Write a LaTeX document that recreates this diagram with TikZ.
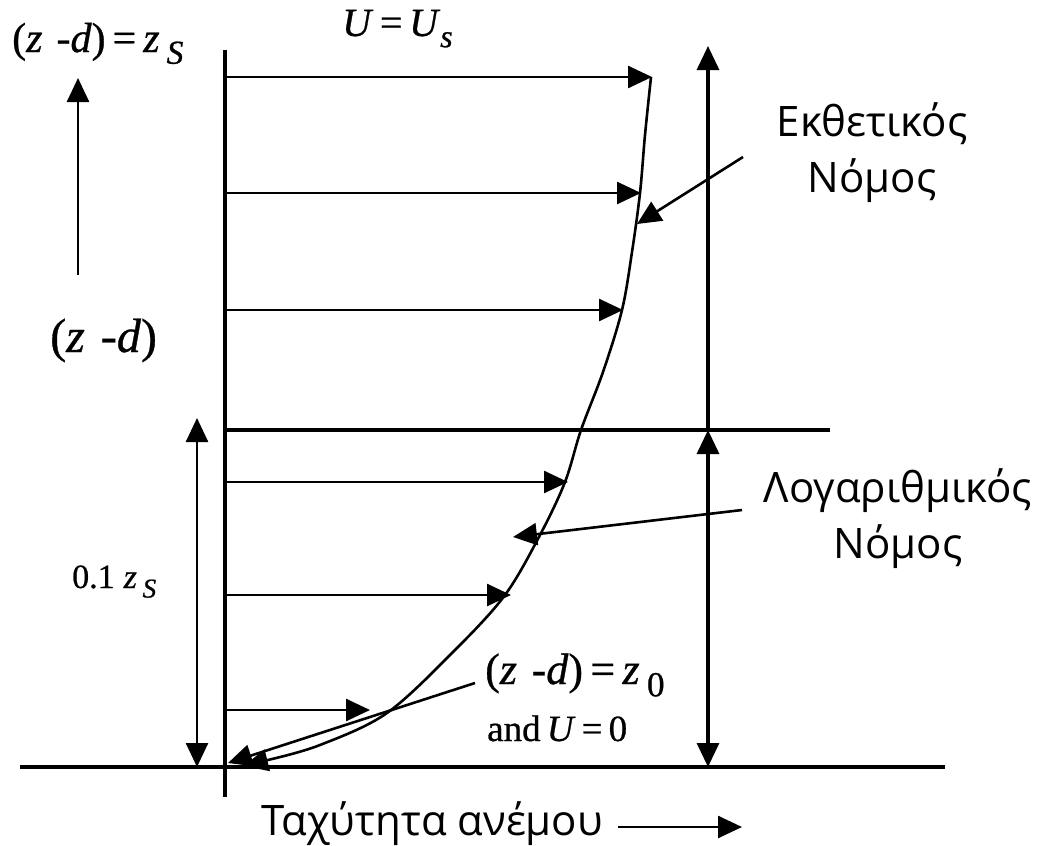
\documentclass[tikz,border=0pt]{standalone}
\usepackage{fontspec}
\usepackage{graphicx}
\setmainfont{Liberation Serif}[FakeBold=0.7, ItalicFeatures={FakeBold=0.7}]
\newfontfamily\grk{Open Sans}
\newcommand\lowsub[1]{\raisebox{-0.28em}{\scalebox{0.8}{#1}}}
\usetikzlibrary{arrows.meta}
\begin{document}
\begin{tikzpicture}[x=1pt,y=-1pt,
  ln/.style={line width=3.2pt},
  lnb/.style={line width=2.6pt},
  tri/.style={-{Triangle[length=24pt,width=22pt]}},
  tritri/.style={{Triangle[length=24pt,width=22pt]}-{Triangle[length=24pt,width=22pt]}},
  glbl/.style={font=\grk\fontsize{42}{56}\selectfont, align=center, inner sep=0pt},
  mlbl/.style={inner sep=0pt, anchor=base west}]
\useasboundingbox (0,0) rectangle (1037,846);
% axes
\coordinate (axT) at (225,50);
\coordinate (axB) at (225,797);
\coordinate (gL) at (20,767);
\coordinate (gR) at (945,767);
\coordinate (mL) at (225,430);
\coordinate (mR) at (830,430);
\draw[ln] (axT) -- (axB);
\draw[ln] (gL) -- (gR);
\draw[ln] (mL) -- (mR);
% right dimension arrows
\coordinate (rT) at (708,46);
\coordinate (rM) at (708,430);
\coordinate (rB) at (708,767);
\draw[ln,tri] (rM) -- (rT);
\draw[ln,tritri] (rB) -- (rM);
% left dimension arrows
\coordinate (lT) at (197,418);
\coordinate (lB) at (197,767);
\draw[lnb,tritri] (lB) -- (lT);
\coordinate (zaB) at (78,275);
\coordinate (zaT) at (78,78);
\draw[lnb,tri] (zaB) -- (zaT);
% velocity arrows
\foreach \n/\y/\x in {1/77/652,2/193/641,3/310/623,4/482/568,5/595/511,6/710/370}{
  \coordinate (vs\n) at (225,\y);
  \coordinate (ve\n) at (\x,\y);
  \draw[lnb,tri] (vs\n) -- (ve\n);
}
% profile curve
\coordinate (cB) at (244,766);
\draw[lnb,tri] plot[smooth,tension=0.55] coordinates {(651,77) (645,135) (640,193) (632,252) (622,310) (603,372) (581,430) (565,482) (540,535) (505,595) (455,650) (387,713) (320,745) (272,759)} -- (cB);
% pointers
\coordinate (p1s) at (743,157);
\coordinate (p1e) at (637,224);
\draw[lnb,tri] (p1s) -- (p1e);
\coordinate (p2s) at (742,510);
\coordinate (p2e) at (513,537);
\draw[lnb,tri] (p2s) -- (p2e);
\coordinate (p3s) at (475,683);
\coordinate (p3e) at (228,763);
\draw[lnb,tri] (p3s) -- (p3e);
% labels
\node[mlbl,font=\fontsize{42}{46}\selectfont] (zs) at (12,52) {(\textit{z}\,\,-\textit{d})\,=\,\textit{z}\,\lowsub{\textit{S}}};
\node[mlbl,font=\fontsize{40}{44}\selectfont] (us) at (342,36) {\textit{U}\,=\,\textit{U}\lowsub{\textit{s}}};
\node[mlbl,font=\fontsize{48}{52}\selectfont] (zd) at (50,352) {(\textit{z}\,\,-\textit{d})};
\node[mlbl,font=\fontsize{34}{40}\selectfont] (z01) at (72,588) {0.1\hspace{9pt}\textit{z}\,\lowsub{\textit{S}}};
\node[mlbl,font=\fontsize{44}{48}\selectfont] (z0) at (485,684) {(\textit{z}\,\,-\textit{d})\,=\,\textit{z}\,\lowsub{0}};
\node[mlbl,font=\fontsize{37}{42}\selectfont] (u0) at (487,741) {and\,\textit{U}\,=\,0};
\node[glbl,anchor=base] (ek) at (872,192) {Εκθετικός\\Νόμος};
\node[glbl,anchor=base] (lo) at (898,558) {Λογαριθμικός\\Νόμος};
\node[glbl,anchor=base] (ta) at (432,835) {Ταχύτητα ανέμου};
\coordinate (tas) at (618,827);
\coordinate (tae) at (742,827);
\draw[lnb,tri] (tas) -- (tae);
\end{tikzpicture}
\end{document}
